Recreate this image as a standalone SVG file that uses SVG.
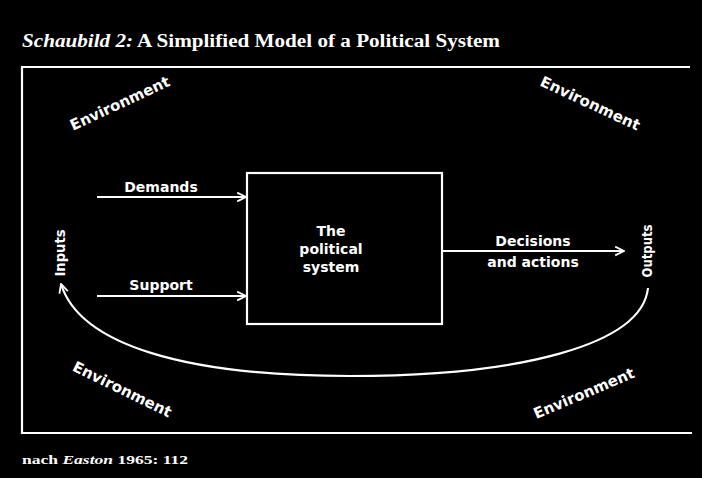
<svg xmlns="http://www.w3.org/2000/svg" width="702" height="478" viewBox="0 0 702 478">
<defs>
<style>
.bg{fill:#000}
.ln{stroke:#fff;stroke-width:2.2;fill:none}
.t{fill:#fff;font-family:"DejaVu Sans","Liberation Sans",sans-serif;font-weight:bold;font-size:14px;text-anchor:middle}
.env{fill:#fff;font-family:"DejaVu Sans","Liberation Sans",sans-serif;font-weight:bold;font-size:15px;text-anchor:middle}
.v{fill:#fff;font-family:"DejaVu Sans Condensed","DejaVu Sans","Liberation Sans",sans-serif;font-weight:bold;font-size:14px;text-anchor:middle}
.serif{fill:#fff;font-family:"Liberation Serif","DejaVu Serif",serif;font-weight:bold}
</style>
<marker id="ah" viewBox="0 0 10 10" refX="9" refY="5" markerWidth="5" markerHeight="5" orient="auto" markerUnits="strokeWidth">
<path d="M1,1 L9,5 L1,9" fill="none" stroke="#fff" stroke-width="1.6"/>
</marker>
</defs>
<rect class="bg" x="0" y="0" width="702" height="478"/>
<g id="title">
<text class="serif" x="22" y="47" font-size="18" textLength="478" lengthAdjust="spacingAndGlyphs"><tspan font-style="italic">Schaubild 2:</tspan> A Simplified Model of a Political System</text>
</g>
<g id="frame">
<path class="ln" d="M690,67 H22 V433 H692"/>
</g>
<g id="environment">
<text class="env" transform="translate(122,108) rotate(-25)">Environment</text>
<text class="env" transform="translate(588,108) rotate(25)">Environment</text>
<text class="env" transform="translate(120,394) rotate(26)">Environment</text>
<text class="env" transform="translate(586,398) rotate(-23)">Environment</text>
</g>
<g id="system">
<rect class="ln" x="247" y="173" width="195" height="151"/>
<text class="t" x="331" y="236">The</text>
<text class="t" x="331" y="254">political</text>
<text class="t" x="331" y="272">system</text>
</g>
<g id="inputs">
<text class="v" transform="translate(65,253) rotate(-90)" textLength="47" lengthAdjust="spacingAndGlyphs">Inputs</text>
</g>
<g id="outputs">
<text class="v" transform="translate(652,251) rotate(-90)" textLength="53" lengthAdjust="spacingAndGlyphs">Outputs</text>
</g>
<g id="connectors">
<line class="ln" x1="97" y1="197" x2="246" y2="197" marker-end="url(#ah)"/>
<line class="ln" x1="97" y1="296" x2="246" y2="296" marker-end="url(#ah)"/>
<line class="ln" x1="442" y1="251" x2="624" y2="251" marker-end="url(#ah)"/>
<path class="ln" d="M648,288 C642,345 520,376 350,376 C185,376 80,345 61,284" marker-end="url(#ah)"/>
</g>
<g id="labels">
<text class="t" x="161" y="192">Demands</text>
<text class="t" x="161" y="290">Support</text>
<text class="t" x="533" y="246">Decisions</text>
<text class="t" x="533" y="267">and actions</text>
</g>
<g id="source">
<text class="serif" x="22" y="464" font-size="13" textLength="166" lengthAdjust="spacingAndGlyphs">nach <tspan font-style="italic">Easton</tspan> 1965: 112</text>
</g>
</svg>
